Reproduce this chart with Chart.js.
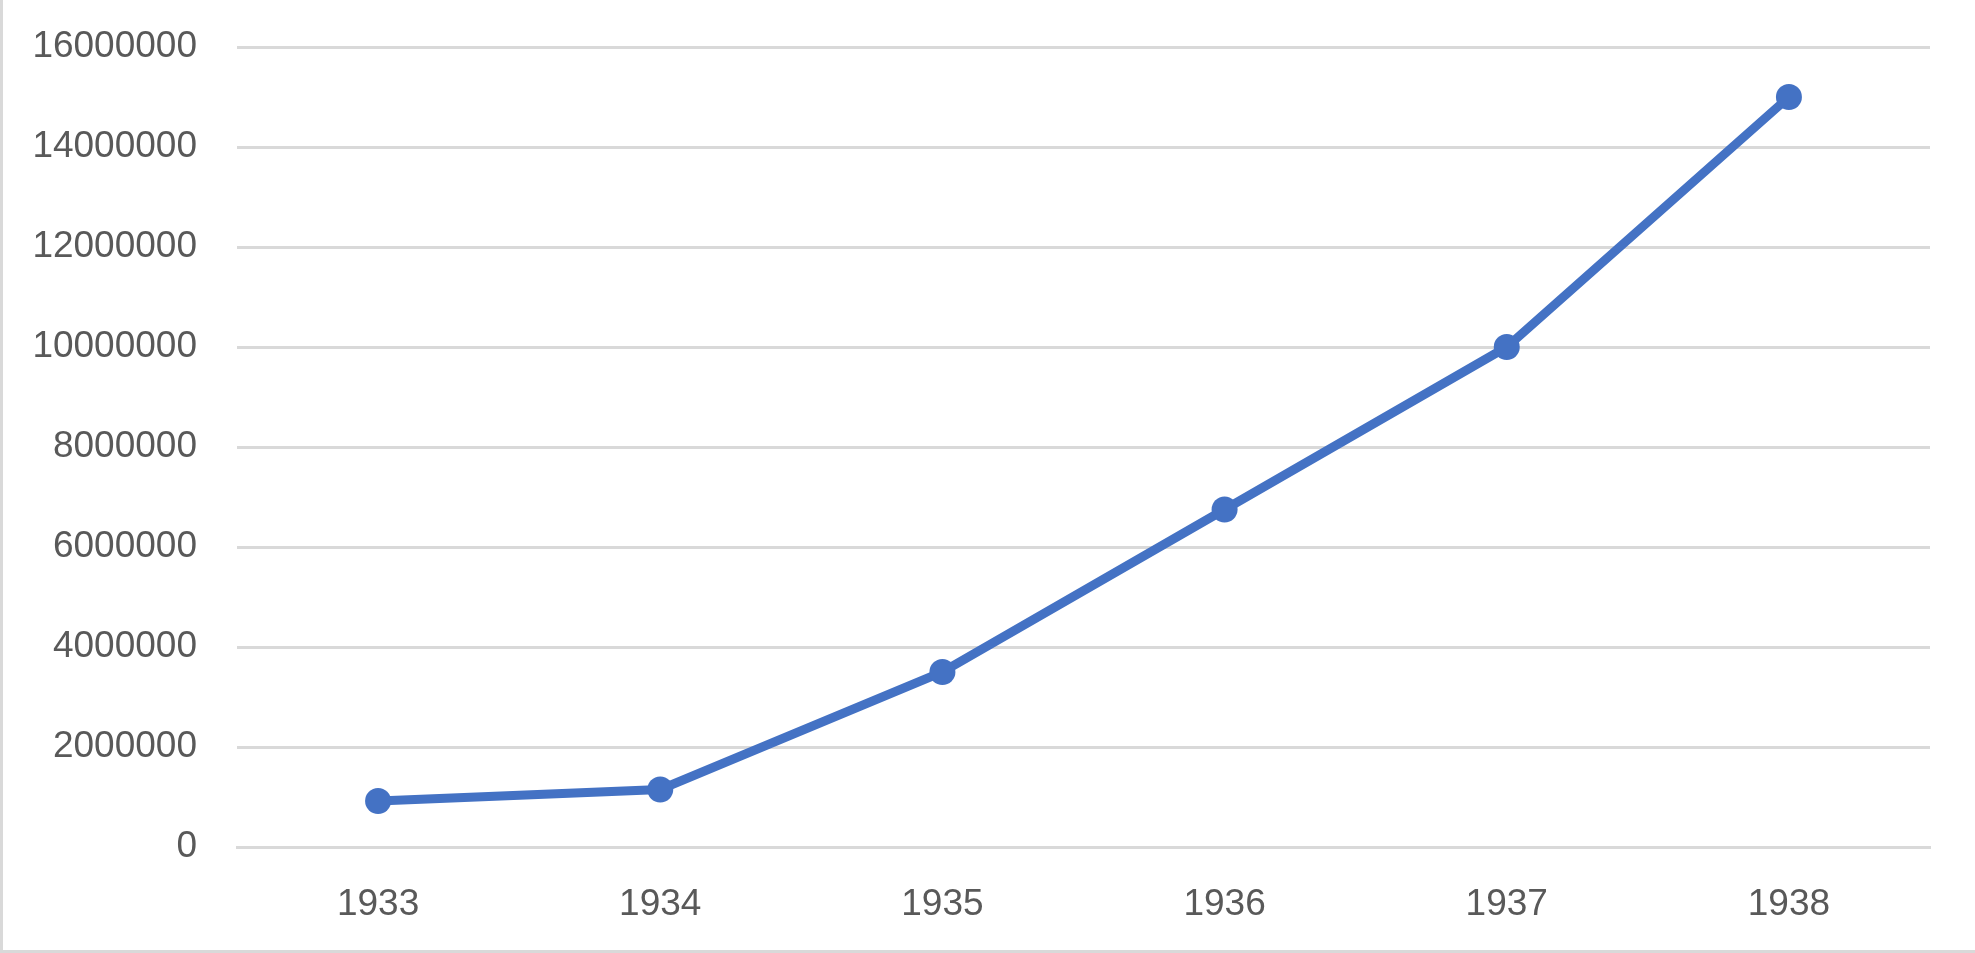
<!DOCTYPE html>
<html>
<head>
<meta charset="utf-8">
<script src="https://cdn.jsdelivr.net/npm/chart.js@4/dist/chart.umd.min.js"></script>
<style>
    body { margin: 0; background: #ffffff; }
    #wrap {
        width: 1972px;
        height: 950px;
        border-left: 3px solid #d9d9d9;
        border-bottom: 3px solid #d9d9d9;
        background: #ffffff;
    }
    canvas { display: block; }
</style>
</head>
<body>
<div id="wrap"><canvas id="lineChart" width="1972" height="950"></canvas></div>
<script>
var years = ['1933', '1934', '1935', '1936', '1937', '1938'];
var values = [920000, 1150000, 3500000, 6750000, 10000000, 15000000];
var yTicks = [0, 2000000, 4000000, 6000000, 8000000, 10000000, 12000000, 14000000, 16000000];

var labelFont = { family: "'Liberation Sans', Arial, sans-serif", size: 37 };
var labelColor = '#595959';

new Chart(document.getElementById('lineChart').getContext('2d'), {
    type: 'line',
    data: {
        labels: years,
        datasets: [{
            data: values,
            borderColor: '#4472c4',
            backgroundColor: '#4472c4',
            borderWidth: 9,
            pointRadius: 13,
            pointHoverRadius: 13,
            pointBorderWidth: 0,
            tension: 0,
            fill: false
        }]
    },
    options: {
        responsive: false,
        animation: false,
        layout: { padding: { left: 0, top: 47, right: 45, bottom: 30 } },
        plugins: {
            legend: { display: false },
            tooltip: { enabled: false }
        },
        scales: {
            x: {
                offset: true,
                grid: { display: false, drawTicks: false },
                border: { display: true, color: '#d9d9d9', width: 3 },
                ticks: { color: labelColor, font: labelFont, padding: 36, maxRotation: 0 },
                afterFit: function(scale) { scale.height = 73; }
            },
            y: {
                min: 0,
                max: 16000000,
                afterBuildTicks: function(scale) {
                    scale.ticks = yTicks.map(function(v) { return { value: v }; });
                },
                grid: { color: '#d9d9d9', lineWidth: 3, drawTicks: false },
                border: { display: false },
                ticks: {
                    color: labelColor,
                    font: labelFont,
                    padding: 40,
                    callback: function(value) { return String(value); }
                },
                afterFit: function(scale) {
                    scale.width = 234;
                    // tick padding would otherwise push the plot top down
                    scale.paddingTop = 10;
                    scale.paddingBottom = 10;
                }
            }
        }
    }
});
</script>
</body>
</html>
